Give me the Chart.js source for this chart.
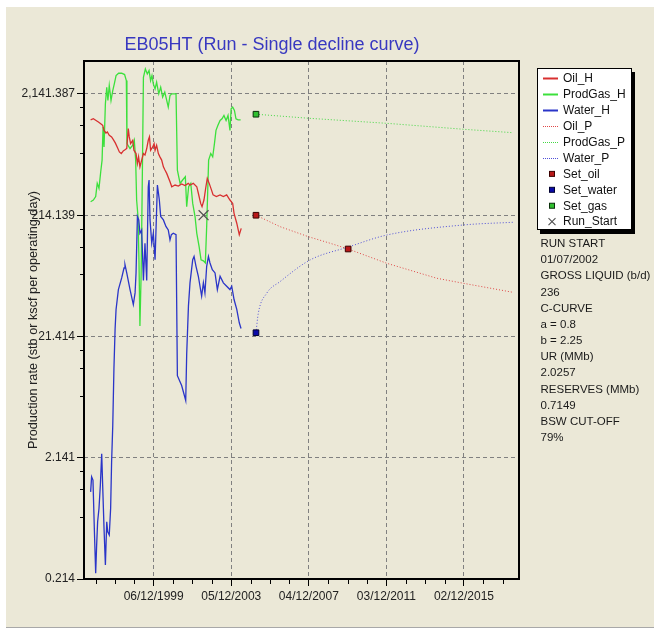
<!DOCTYPE html>
<html>
<head>
<meta charset="utf-8">
<script src="https://cdn.jsdelivr.net/npm/chart.js@4.4.1/dist/chart.umd.min.js"></script>
<style>
html,body{margin:0;padding:0;background:#ffffff;}
canvas{display:block;}
</style>
</head>
<body>
<canvas id="c" width="654" height="630"></canvas>
<script>
// ---------------- DATA ----------------
const chartTitle = 'EB05HT (Run - Single decline curve)';
const yAxisTitle = 'Production rate (stb or kscf per operating day)';

const xTickValues = [1999.929, 2003.926, 2007.923, 2011.921, 2015.918];
const xTickLabels = ['06/12/1999', '05/12/2003', '04/12/2007', '03/12/2011', '02/12/2015'];
const yTickValues = [0.2141387, 2.141387, 21.41387, 214.1387, 2141.387];
const yTickLabels = ['0.214', '2.141', '21.414', '214.139', '2,141.387'];
const X_MIN = 1996.338, X_MAX = 2018.754;
const Y_MIN = 0.2141387, Y_MAX = 4006;

const oilYears = [1996.68,1996.82,1996.96,1997.08,1997.20,1997.30,1997.37,1997.47,1997.54,1997.64,1997.76,1997.85,1997.95,1998.06,1998.16,1998.26,1998.36,1998.47,1998.54,1998.62,1998.67,1998.74,1998.85,1998.91,1999.02,1999.09,1999.15,1999.22,1999.31,1999.40,1999.48,1999.57,1999.65,1999.71,1999.77,1999.88,1999.95,2000.00,2000.08,2000.17,2000.25,2000.34,2000.43,2000.51,2000.60,2000.77,2000.86,2001.03,2001.20,2001.37,2001.54,2001.71,2001.80,2001.97,2002.15,2002.23,2002.35,2002.42,2002.52,2002.62,2002.69,2002.79,2002.91,2002.99,2003.16,2003.35,2003.52,2003.69,2003.86,2004.00,2004.07,2004.21,2004.34,2004.44];
const oilValues = [1310,1338,1295,1258,1218,1180,1073,1021,1041,977,948,901,846,774,713,691,727,745,760,1110,948,835,889,736,691,572,649,537,610,691,671,760,889,948,736,784,835,736,809,691,649,610,537,505,474,404,368,380,372,388,376,392,380,392,368,325,268,252,286,368,431,392,345,315,305,315,305,315,286,268,222,184,148,167];

const gasYears = [1996.68,1996.82,1996.94,1997.02,1997.11,1997.20,1997.27,1997.32,1997.37,1997.44,1997.51,1997.57,1997.64,1997.73,1997.82,1997.90,1997.99,1998.12,1998.28,1998.43,1998.52,1998.55,1998.71,1998.85,1998.93,1999.00,1999.05,1999.12,1999.17,1999.22,1999.28,1999.33,1999.40,1999.50,1999.60,1999.69,1999.77,1999.84,1999.91,2000.00,2000.08,2000.19,2000.29,2000.39,2000.50,2000.60,2000.68,2000.77,2000.86,2001.08,2001.15,2001.29,2001.42,2001.56,2001.63,2001.73,2001.84,2001.94,2002.06,2002.15,2002.27,2002.37,2002.49,2002.59,2002.66,2002.71,2002.76,2002.87,2002.97,2003.06,2003.14,2003.24,2003.35,2003.45,2003.55,2003.66,2003.76,2003.86,2003.92,2004.00,2004.09,2004.17,2004.28,2004.41];
const gasValues = [277,286,305,392,357,489,610,1145,784,1778,2435,1895,2516,1895,2287,2595,3038,3175,3175,3095,2762,835,760,809,889,610,286,209,92,26.1,67.2,286,2942,3447,3135,3340,2762,3038,2595,2360,2679,2148,2435,2017,2216,1895,1670,2081,2148,2148,505,392,418,445,252,368,392,268,209,152,118,92,90,86.5,173,325,610,691,649,835,1073,1180,1295,1338,1426,1295,1426,1073,1617,1670,1569,1338,1310,1310];

const waterYears = [1996.68,1996.73,1996.80,1996.87,1996.94,1996.99,1997.04,1997.11,1997.18,1997.25,1997.30,1997.37,1997.44,1997.51,1997.56,1997.64,1997.71,1997.76,1997.82,1997.88,1997.94,1997.99,1998.11,1998.28,1998.40,1998.45,1998.54,1998.71,1998.88,1998.97,1999.02,1999.09,1999.16,1999.22,1999.31,1999.40,1999.48,1999.57,1999.65,1999.69,1999.74,1999.83,1999.91,2000.00,2000.12,2000.22,2000.29,2000.43,2000.56,2000.68,2000.77,2000.84,2000.94,2001.08,2001.15,2001.37,2001.58,2001.63,2001.72,2001.80,2001.94,2002.01,2002.11,2002.23,2002.40,2002.49,2002.57,2002.66,2002.75,2002.83,2002.95,2003.09,2003.21,2003.35,2003.52,2003.69,2003.86,2003.95,2004.07,2004.21,2004.34,2004.43];
const waterValues = [1.12,1.49,1.40,0.559,0.239,0.408,0.635,0.816,1.27,2.31,1.27,0.559,0.280,0.635,0.525,0.494,0.816,1.97,3.94,11.55,24.6,35.8,52.2,65.1,78.6,83.7,71.6,52.2,39.3,49.0,71.6,209,196,152,162,62,126,62,368,418,196,126,152,92,380,286,209,196,173,162,134,148,152,148,10.18,8.43,6.35,15.33,38.1,59.3,92,98,81.2,67.2,46.1,59.3,49.0,81.2,98,86.5,76,71.6,52.2,67.2,59.3,55.6,52.2,55.6,43.2,35.8,27.8,24.9];

const oilFcYears = [2005.20,2006.44,2007.90,2009.02,2009.95,2011.94,2014.52,2015.89,2018.43];
const oilFcValues = [214.14,172.4,142.5,125.8,112.8,86.0,64.7,58.8,49.6];
const gasFcYears = [2005.20,2007.90,2011.94,2015.89,2018.43];
const gasFcValues = [1458,1351,1227,1096,1027];
const waterFcYears = [2005.20,2005.32,2005.75,2006.44,2007.99,2009.95,2011.94,2015.89,2018.43];
const waterFcValues = [23.0,33.3,48.6,60.7,91.6,117,147,178,187.3];

const setOilYears = [2005.20, 2009.95];
const setOilValues = [214.14, 112.8];
const setWaterYears = [2005.20];
const setWaterValues = [23.0];
const setGasYears = [2005.20];
const setGasValues = [1458];
const runStartYears = [2002.50];
const runStartValues = [214.14];

const infoLines = ['RUN START','01/07/2002','GROSS LIQUID (b/d)','236','C-CURVE','a = 0.8','b = 2.25','UR (MMb)','2.0257','RESERVES (MMb)','0.7149','BSW CUT-OFF','79%'];

// ---------------- CHART ----------------
const FONT = "'Liberation Sans', Arial, Helvetica, sans-serif";
Chart.defaults.font.family = FONT;

function pts(xs, ys) { return xs.map((x, i) => ({ x: x, y: ys[i] })); }

const datasets = [
  { label: 'Oil_H', data: pts(oilYears, oilValues), borderColor: '#D83030', borderWidth: 1.3, pointRadius: 0, order: 2 },
  { label: 'ProdGas_H', data: pts(gasYears, gasValues), borderColor: '#3CE03C', borderWidth: 1.3, pointRadius: 0, order: 3 },
  { label: 'Water_H', data: pts(waterYears, waterValues), borderColor: '#2A35C8', borderWidth: 1.3, pointRadius: 0, order: 1 },
  { label: 'Oil_P', data: pts(oilFcYears, oilFcValues), borderColor: '#E04848', borderWidth: 1, borderDash: [1, 2], pointRadius: 0, order: 5 },
  { label: 'ProdGas_P', data: pts(gasFcYears, gasFcValues), borderColor: '#44D844', borderWidth: 1, borderDash: [1, 2], pointRadius: 0, order: 6 },
  { label: 'Water_P', data: pts(waterFcYears, waterFcValues), borderColor: '#5050D8', borderWidth: 1, borderDash: [1, 2], pointRadius: 0, cubicInterpolationMode: 'monotone', order: 4 },
  { label: 'Set_oil', data: pts(setOilYears, setOilValues), showLine: false, pointStyle: 'rect', pointRadius: 4, backgroundColor: '#B81818', borderColor: '#3a0000', borderWidth: 1, order: 0 },
  { label: 'Set_water', data: pts(setWaterYears, setWaterValues), showLine: false, pointStyle: 'rect', pointRadius: 4, backgroundColor: '#0A0AA8', borderColor: '#000030', borderWidth: 1, order: 0 },
  { label: 'Set_gas', data: pts(setGasYears, setGasValues), showLine: false, pointStyle: 'rect', pointRadius: 4, backgroundColor: '#30C030', borderColor: '#0a300a', borderWidth: 1, order: 0 },
  { label: 'Run_Start', data: pts(runStartYears, runStartValues), showLine: false, pointStyle: 'crossRot', pointRadius: 7, borderColor: '#505050', backgroundColor: '#505050', borderWidth: 1.2, order: 0 }
];

const decor = {
  id: 'decor',
  beforeDraw(chart) {
    const ctx = chart.ctx;
    ctx.save();
    ctx.fillStyle = '#ffffff';
    ctx.fillRect(0, 0, chart.width, chart.height);
    ctx.fillStyle = '#EBE8D7';
    ctx.fillRect(6, 7, chart.width - 6, 620);
    ctx.fillStyle = '#a8a8a8';
    ctx.fillRect(6, 627, chart.width - 6, 1);
    ctx.restore();
  },
  afterDraw(chart) {
    const ctx = chart.ctx;
    const a = chart.chartArea;
    const xs = chart.scales.x, ys = chart.scales.y;
    ctx.save();
    // frame
    ctx.strokeStyle = '#000';
    ctx.lineWidth = 2;
    ctx.setLineDash([]);
    ctx.strokeRect(a.left, a.top, a.right - a.left, a.bottom - a.top);
    // minor ticks
    ctx.lineWidth = 1;
    ctx.beginPath();
    const step = (xTickValues[1] - xTickValues[0]) / 4;
    for (let v = xTickValues[0] - step; v > X_MIN; v -= step) {
      if (Math.abs((v - xTickValues[0]) / step % 4) < 0.01) continue;
      const px = Math.round(xs.getPixelForValue(v)) + 0.5;
      ctx.moveTo(px, a.bottom); ctx.lineTo(px, a.bottom + 5);
    }
    for (let v = xTickValues[0] + step; v < X_MAX; v += step) {
      const k = Math.round((v - xTickValues[0]) / step);
      if (k % 4 === 0) continue;
      const px = Math.round(xs.getPixelForValue(v)) + 0.5;
      ctx.moveTo(px, a.bottom); ctx.lineTo(px, a.bottom + 5);
    }
    for (let i = 0; i < yTickValues.length - 1; i++) {
      const lo = yTickValues[i], hi = yTickValues[i + 1];
      for (let k = 1; k < 4; k++) {
        const py = Math.round(ys.getPixelForValue(lo + (hi - lo) * k / 4)) + 0.5;
        ctx.moveTo(a.left - 4, py); ctx.lineTo(a.left, py);
      }
    }
    ctx.stroke();
    // title
    ctx.fillStyle = '#3838C0';
    ctx.font = '18px ' + FONT;
    ctx.textAlign = 'center';
    ctx.textBaseline = 'middle';
    ctx.fillText(chartTitle, 272, 45);
    // legend box
    ctx.fillStyle = '#000';
    ctx.fillRect(540, 72, 95, 162);
    ctx.fillStyle = '#fff';
    ctx.fillRect(537, 68, 95, 162);
    ctx.strokeStyle = '#000';
    ctx.lineWidth = 1;
    ctx.strokeRect(537.5, 68.5, 94, 161);
    ctx.font = '12px ' + FONT;
    ctx.textAlign = 'left';
    chart.data.datasets.forEach((ds, i) => {
      const y = 78.3 + i * 15.93;
      if (ds.showLine === false) {
        ctx.setLineDash([]);
        if (ds.pointStyle === 'rect') {
          ctx.fillStyle = ds.backgroundColor;
          ctx.fillRect(549.5, y - 2.5, 5, 5);
          ctx.strokeStyle = ds.borderColor;
          ctx.strokeRect(549.5, y - 2.5, 5, 5);
        } else {
          ctx.strokeStyle = ds.borderColor;
          ctx.lineWidth = 1.1;
          ctx.beginPath();
          ctx.moveTo(548.5, y - 3.5); ctx.lineTo(555.5, y + 3.5);
          ctx.moveTo(555.5, y - 3.5); ctx.lineTo(548.5, y + 3.5);
          ctx.stroke();
          ctx.lineWidth = 1;
        }
      } else {
        ctx.strokeStyle = ds.borderColor;
        ctx.lineWidth = ds.borderDash ? 1 : 2;
        ctx.setLineDash(ds.borderDash ? [1, 1] : []);
        ctx.beginPath();
        ctx.moveTo(543, Math.round(y) + 0.5); ctx.lineTo(558, Math.round(y) + 0.5);
        ctx.stroke();
        ctx.lineWidth = 1;
        ctx.setLineDash([]);
      }
      ctx.fillStyle = '#111';
      ctx.fillText(ds.label, 563, y + 0.5);
    });
    // info text
    ctx.font = '11.5px ' + FONT;
    ctx.fillStyle = '#1a1a1a';
    infoLines.forEach((t, i) => ctx.fillText(t, 540.5, 244 + i * 16.15));
    ctx.restore();
  }
};

new Chart(document.getElementById('c'), {
  type: 'line',
  data: { datasets: datasets },
  plugins: [decor],
  options: {
    responsive: false,
    animation: false,
    events: [],
    layout: { padding: { left: 0, top: 61, right: 135, bottom: 0 } },
    plugins: { legend: { display: false }, tooltip: { enabled: false }, title: { display: false } },
    elements: { line: { tension: 0, fill: false } },
    scales: {
      x: {
        type: 'linear', min: X_MIN, max: X_MAX,
        afterBuildTicks: s => { s.ticks = xTickValues.map(v => ({ value: v })); },
        afterFit: s => { s.height = 51; },
        ticks: { callback: (v, i) => xTickLabels[i], autoSkip: false, maxRotation: 0, minRotation: 0, color: '#222', font: { size: 12 }, padding: 3 },
        grid: { color: '#808080', lineWidth: 1, tickColor: '#000', tickLength: 7, tickWidth: 1, tickBorderDash: [] },
        border: { display: false, dash: [4, 3] }
      },
      y: {
        type: 'logarithmic', min: Y_MIN, max: Y_MAX,
        afterBuildTicks: s => { s.ticks = yTickValues.map(v => ({ value: v })); },
        afterFit: s => { s.width = 84; },
        ticks: { callback: (v, i) => yTickLabels[i], autoSkip: false, color: '#222', font: { size: 12 }, padding: 2 },
        grid: { color: '#808080', lineWidth: 1, tickColor: '#000', tickLength: 7, tickWidth: 1, tickBorderDash: [] },
        border: { display: false, dash: [4, 3] },
        title: { display: true, text: yAxisTitle, color: '#222', font: { size: 12.7 }, padding: { top: 25.5, bottom: 0 } }
      }
    }
  }
});
</script>
</body>
</html>
